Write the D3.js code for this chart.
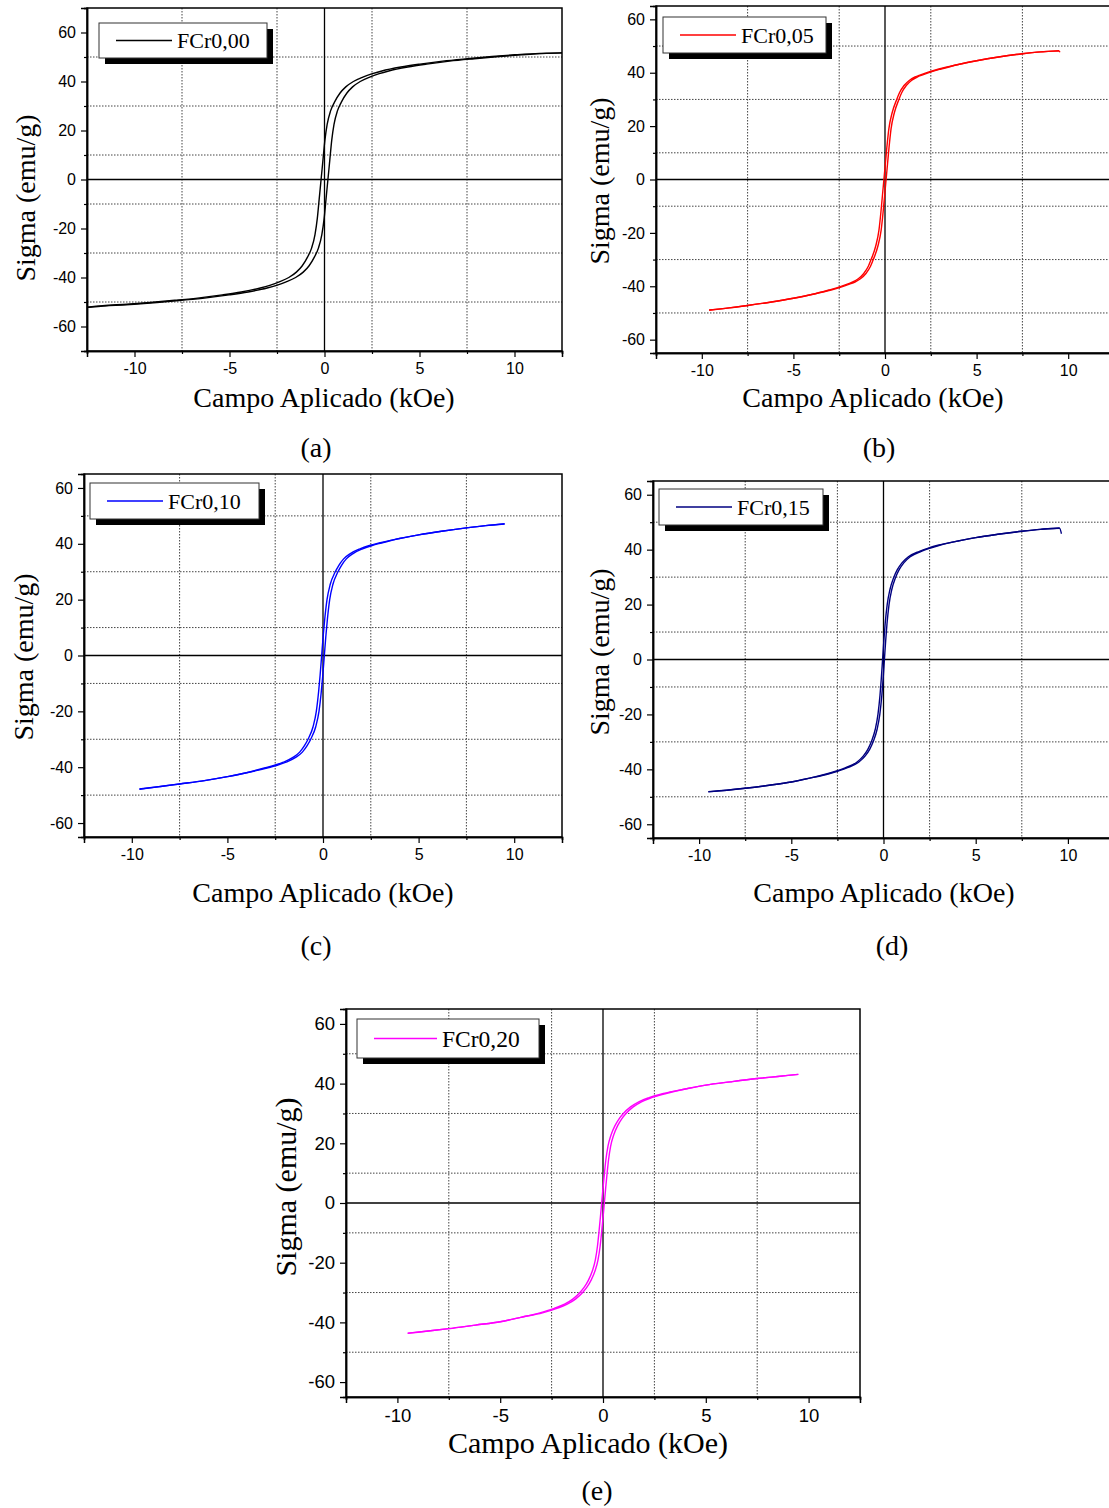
<!DOCTYPE html>
<html>
<head>
<meta charset="utf-8">
<script src="https://cdn.jsdelivr.net/npm/d3@7"></script>
<style>
body {margin:0; background:#fff;}
svg {display:block;}
</style>
</head>
<body>
<svg id="fig" width="1109" height="1508"></svg>
<script>
// hysteresis loops, [field (kOe), sigma (emu/g)]
// "desc" = branch coming down from +H, "asc" = branch going up from -H
var fcr000Desc = [[12.5,51.7],[11.32,51.5],[10.02,50.9],[8.82,50.2],[7.52,49.3],[6.22,48.3],[5.02,47.1],[4.02,45.9],[3.02,44.3],[2.52,43.2],[2.02,41.8],[1.52,40],[1.12,37.8],[0.82,35.3],[0.52,31.5],[0.32,28],[0.14,22.5],[0.02,16],[-0.08,8],[-0.18,0],[-0.28,-8],[-0.38,-16],[-0.5,-22.5],[-0.68,-28],[-0.88,-31.5],[-1.18,-35.3],[-1.48,-37.8],[-1.88,-40],[-2.38,-41.8],[-2.88,-43.2],[-3.38,-44.3],[-4.38,-45.9],[-5.38,-47.1],[-6.58,-48.3],[-7.88,-49.3],[-9.18,-50.2],[-10.38,-50.9],[-11.68,-51.5],[-12.5,-52.1]];
var fcr000Asc = [[-12.5,-52.2],[-11.32,-51.5],[-10.02,-50.9],[-8.82,-50.2],[-7.52,-49.3],[-6.22,-48.3],[-5.02,-47.1],[-4.02,-45.9],[-3.02,-44.3],[-2.52,-43.2],[-2.02,-41.8],[-1.52,-40],[-1.12,-37.8],[-0.82,-35.3],[-0.52,-31.5],[-0.32,-28],[-0.14,-22.5],[-0.02,-16],[0.08,-8],[0.18,0],[0.28,8],[0.38,16],[0.5,22.5],[0.68,28],[0.88,31.5],[1.18,35.3],[1.48,37.8],[1.88,40],[2.38,41.8],[2.88,43.2],[3.38,44.3],[4.38,45.9],[5.38,47.1],[6.58,48.3],[7.88,49.3],[9.18,50.2],[10.38,50.9],[11.68,51.5],[12.5,51.7]];

var fcr005Desc = [[9.5,48.3],[8.5,47.8],[7.5,47.1],[6.2,45.9],[5,44.5],[4,43.1],[2.94,41.4],[2.44,40.4],[1.94,39.2],[1.64,38.4],[1.34,37.2],[1.04,35.2],[0.79,32.5],[0.64,30],[0.39,25],[0.21,19],[0.1,12],[0.02,6],[-0.06,0],[-0.14,-6],[-0.22,-12],[-0.33,-19],[-0.51,-25],[-0.76,-30],[-0.91,-32.5],[-1.16,-35.2],[-1.46,-37.2],[-1.76,-38.4],[-2.06,-39.2],[-2.56,-40.4],[-3.06,-41.4],[-4,-43.1],[-5,-44.5],[-6.2,-45.9],[-7.5,-47.2],[-8.5,-48.1],[-9.6,-48.9]];
var fcr005Asc = [[-9.6,-49],[-8.5,-48.1],[-7.5,-47.2],[-6.2,-45.9],[-5,-44.5],[-4,-43.1],[-2.94,-41.4],[-2.44,-40.4],[-1.94,-39.2],[-1.64,-38.4],[-1.34,-37.2],[-1.04,-35.2],[-0.79,-32.5],[-0.64,-30],[-0.39,-25],[-0.21,-19],[-0.1,-12],[-0.02,-6],[0.06,0],[0.14,6],[0.22,12],[0.33,19],[0.51,25],[0.76,30],[0.91,32.5],[1.16,35.2],[1.46,37.2],[1.76,38.4],[2.06,39.2],[2.56,40.4],[3.06,41.4],[4,43.1],[5,44.5],[6.2,45.9],[7.5,47.1],[8.5,47.8],[9.5,48.2],[9.55,47.7]];

var fcr010Desc = [[9.5,47.2],[8.5,46.5],[7.5,45.7],[6.2,44.5],[5,43.2],[4,41.9],[2.93,40.3],[2.43,39.4],[1.93,38.2],[1.43,36.5],[1.08,34.6],[0.83,32.3],[0.63,29.8],[0.38,25.5],[0.21,20],[0.09,13],[0.01,7],[-0.07,0],[-0.15,-7],[-0.23,-13],[-0.35,-20],[-0.52,-25.5],[-0.77,-29.8],[-0.97,-32.3],[-1.22,-34.6],[-1.57,-36.5],[-2.07,-38.2],[-2.57,-39.4],[-3.07,-40.3],[-4,-42],[-5,-43.4],[-6.2,-44.8],[-7.5,-46],[-8.5,-46.9],[-9.6,-47.8]];
var fcr010Asc = [[-9.6,-47.9],[-8.5,-46.9],[-7.5,-46],[-6.2,-44.8],[-5,-43.4],[-4,-42],[-2.93,-40.3],[-2.43,-39.4],[-1.93,-38.2],[-1.43,-36.5],[-1.08,-34.6],[-0.83,-32.3],[-0.63,-29.8],[-0.38,-25.5],[-0.21,-20],[-0.09,-13],[-0.01,-7],[0.07,0],[0.15,7],[0.23,13],[0.35,20],[0.52,25.5],[0.77,29.8],[0.97,32.3],[1.22,34.6],[1.57,36.5],[2.07,38.2],[2.57,39.4],[3.07,40.3],[4,41.9],[5,43.2],[6.2,44.5],[7.5,45.7],[8.5,46.5],[9.5,47.1]];

var fcr015Desc = [[9.55,47.9],[8.5,47.4],[7.5,46.7],[6.2,45.6],[5,44.4],[4,43.1],[2.95,41.6],[2.45,40.6],[1.95,39.4],[1.35,37.4],[1,35.2],[0.75,32.7],[0.55,29.8],[0.35,25.5],[0.2,20],[0.09,13],[0.02,7],[-0.05,0],[-0.12,-7],[-0.19,-13],[-0.3,-20],[-0.45,-25.5],[-0.65,-29.8],[-0.85,-32.7],[-1.1,-35.2],[-1.45,-37.4],[-2.05,-39.4],[-2.55,-40.6],[-3.05,-41.6],[-4,-43.2],[-5,-44.6],[-6.2,-45.8],[-7.5,-46.9],[-8.5,-47.6],[-9.5,-48.1]];
var fcr015Asc = [[-9.5,-48.2],[-8.5,-47.6],[-7.5,-46.9],[-6.2,-45.8],[-5,-44.6],[-4,-43.2],[-2.95,-41.6],[-2.45,-40.6],[-1.95,-39.4],[-1.35,-37.4],[-1,-35.2],[-0.75,-32.7],[-0.55,-29.8],[-0.35,-25.5],[-0.2,-20],[-0.09,-13],[-0.02,-7],[0.05,0],[0.12,7],[0.19,13],[0.3,20],[0.45,25.5],[0.65,29.8],[0.85,32.7],[1.1,35.2],[1.45,37.4],[2.05,39.4],[2.55,40.6],[3.05,41.6],[4,43.1],[5,44.4],[6.2,45.6],[7.5,46.7],[8.5,47.4],[9.55,47.8],[9.65,45.8]];

var fcr020Desc = [[9.5,43.1],[8.5,42.4],[7.5,41.7],[6.2,40.6],[5,39.5],[4,38.2],[2.94,36.7],[2.24,35.3],[1.74,33.9],[1.34,32.2],[0.99,30],[0.79,28.3],[0.59,26],[0.39,22.8],[0.24,19],[0.14,14.5],[0.07,10],[0,5],[-0.065,0],[-0.13,-5],[-0.2,-10],[-0.27,-14.5],[-0.37,-19],[-0.52,-22.8],[-0.72,-26],[-0.92,-28.3],[-1.12,-30],[-1.47,-32.2],[-1.87,-33.9],[-2.37,-35.3],[-3.07,-36.8],[-4,-38.3],[-5,-39.8],[-6.2,-40.9],[-7.5,-42.1],[-8.5,-42.9],[-9.5,-43.6]];
var fcr020Asc = [[-9.5,-43.7],[-8.5,-42.9],[-7.5,-42.1],[-6.2,-40.9],[-5,-39.8],[-4,-38.3],[-2.94,-36.8],[-2.24,-35.3],[-1.74,-33.9],[-1.34,-32.2],[-0.99,-30],[-0.79,-28.3],[-0.59,-26],[-0.39,-22.8],[-0.24,-19],[-0.14,-14.5],[-0.07,-10],[0,-5],[0.065,0],[0.13,5],[0.2,10],[0.27,14.5],[0.37,19],[0.52,22.8],[0.72,26],[0.92,28.3],[1.12,30],[1.47,32.2],[1.87,33.9],[2.37,35.3],[3.07,36.7],[4,38.2],[5,39.5],[6.2,40.6],[7.5,41.7],[8.5,42.4],[9.5,43.1]];

var sampleNames = ['FCr0,00','FCr0,05','FCr0,10','FCr0,15','FCr0,20'];
var panelLetters = ['(a)','(b)','(c)','(d)','(e)'];

var xMajorTicks = [-10,-5,0,5,10];
var xMinorTicks = [-12.5,-7.5,-2.5,2.5,7.5,12.5];
var yMajorTicks = [-60,-40,-20,0,20,40,60];
var yMinorTicks = [-70,-50,-30,-10,10,30,50,70];

var xTitle = 'Campo Aplicado (kOe)';
var yTitle = 'Sigma (emu/g)';

var serif = "'Liberation Serif','Times New Roman',serif";
var sans = "'Liberation Sans',Arial,sans-serif";

// layout of the five frames (pixels)
var panels = [
    {desc:fcr000Desc, asc:fcr000Asc, color:'#000000', left:87, top:8, width:475, height:343, yMax:70,
     legend:[99,23,168,35], yT:[25,198], xT:[324,397], cap:[316,447], big:false},
    {desc:fcr005Desc, asc:fcr005Asc, color:'#ff0000', left:656, top:6, width:458, height:347, yMax:65,
     legend:[663,17,163,36], yT:[599,181], xT:[873,397], cap:[879,447], big:false},
    {desc:fcr010Desc, asc:fcr010Asc, color:'#0000ff', left:84, top:474, width:478, height:363, yMax:65,
     legend:[90,483,169,36], yT:[23,657], xT:[323,892], cap:[316,945], big:false},
    {desc:fcr015Desc, asc:fcr015Asc, color:'#000080', left:653, top:481, width:461, height:357, yMax:65,
     legend:[659,489,164,36], yT:[599,652], xT:[884,892], cap:[892,945], big:false},
    {desc:fcr020Desc, asc:fcr020Asc, color:'#ff00ff', left:346, top:1009, width:514, height:388, yMax:65,
     legend:[357,1019,182,39], yT:[285,1187], xT:[588,1442], cap:[597,1490], big:true}
];

var svg = d3.select('#fig');

panels.forEach(function(p, i){
    drawPanel(p, i);
});

function drawPanel(p, i) {
    var x = d3.scaleLinear().domain([-12.5, 12.5]).range([0, p.width]);
    var y = d3.scaleLinear().domain([-p.yMax, p.yMax]).range([p.height, 0]);
    var tickFont = p.big ? 18.5 : 16;
    var titleFont = p.big ? 30 : 28;
    var plain = function(d){ return String(d); };   // keep the plain hyphen, like the original

    var g = svg.append('g').attr('transform', 'translate(' + p.left + ',' + p.top + ')');

    g.append('clipPath').attr('id', 'clip' + i)
        .append('rect').attr('width', p.width).attr('height', p.height);

    // dotted grid at the minor tick positions
    g.selectAll('.vgrid')
        .data(xMinorTicks.filter(function(d){ return Math.abs(d) < 12.5; }))
        .enter().append('line')
        .attr('x1', function(d){ return x(d); }).attr('x2', function(d){ return x(d); })
        .attr('y1', 0).attr('y2', p.height)
        .attr('stroke', '#444').attr('stroke-width', 1).attr('stroke-dasharray', '1.5,1.5');
    g.selectAll('.hgrid')
        .data(yMinorTicks.filter(function(d){ return Math.abs(d) < p.yMax; }))
        .enter().append('line')
        .attr('y1', function(d){ return y(d); }).attr('y2', function(d){ return y(d); })
        .attr('x1', 0).attr('x2', p.width)
        .attr('stroke', '#444').attr('stroke-width', 1).attr('stroke-dasharray', '1.5,1.5');

    // zero lines
    g.append('line').attr('x1', x(0)).attr('x2', x(0)).attr('y1', 0).attr('y2', p.height)
        .attr('stroke', '#000').attr('stroke-width', 1.3);
    g.append('line').attr('y1', y(0)).attr('y2', y(0)).attr('x1', 0).attr('x2', p.width)
        .attr('stroke', '#000').attr('stroke-width', 1.3);

    // loop
    var line = d3.line()
        .x(function(d){ return x(d[0]); })
        .y(function(d){ return y(d[1]); })
        .curve(d3.curveMonotoneX);
    var sortH = function(a){ return a.slice().sort(function(m, n){ return m[0] - n[0]; }); };
    g.append('g').attr('clip-path', 'url(#clip' + i + ')')
        .selectAll('path')
        .data([sortH(p.desc), sortH(p.asc)])
        .enter().append('path')
        .attr('d', line)
        .attr('fill', 'none')
        .attr('stroke', p.color)
        .attr('stroke-width', 1.4);

    // frame
    g.append('rect').attr('width', p.width).attr('height', p.height)
        .attr('fill', 'none').attr('stroke', '#000').attr('stroke-width', 1.5);

    // axes
    g.append('g').attr('transform', 'translate(0,' + p.height + ')')
        .call(d3.axisBottom(x).tickValues(xMajorTicks).tickSize(6).tickPadding(6).tickFormat(plain));
    g.append('g').attr('transform', 'translate(0,' + p.height + ')')
        .call(d3.axisBottom(x).tickValues(xMinorTicks).tickSize(3).tickFormat(''));
    g.append('g')
        .call(d3.axisLeft(y).tickValues(yMajorTicks).tickSize(6).tickPadding(5).tickFormat(plain));
    g.append('g')
        .call(d3.axisLeft(y).tickValues(yMinorTicks.filter(function(d){ return Math.abs(d) <= p.yMax; })).tickSize(3).tickFormat(''));

    g.selectAll('.domain').attr('stroke', '#000').attr('stroke-width', 1.5);
    g.selectAll('.tick line').attr('stroke', '#000').attr('stroke-width', 1.2);
    g.selectAll('.tick text').attr('font-family', sans).attr('font-size', tickFont).attr('fill', '#000');

    // legend with drop shadow
    var L = p.legend;
    var lg = svg.append('g');
    lg.append('rect').attr('x', L[0] + 6).attr('y', L[1] + 6).attr('width', L[2]).attr('height', L[3]).attr('fill', '#000');
    lg.append('rect').attr('x', L[0]).attr('y', L[1]).attr('width', L[2]).attr('height', L[3])
        .attr('fill', '#fff').attr('stroke', '#333').attr('stroke-width', 1);
    lg.append('line').attr('x1', L[0] + 17).attr('x2', L[0] + (p.big ? 80 : 73))
        .attr('y1', L[1] + L[3] / 2).attr('y2', L[1] + L[3] / 2)
        .attr('stroke', p.color).attr('stroke-width', 1.3);
    lg.append('text').attr('x', L[0] + (p.big ? 85 : 78)).attr('y', L[1] + L[3] / 2)
        .attr('dominant-baseline', 'central')
        .attr('font-family', serif).attr('font-size', p.big ? 23.5 : 22)
        .text(sampleNames[i]);

    // titles
    svg.append('text')
        .attr('transform', 'translate(' + p.yT[0] + ',' + p.yT[1] + ') rotate(-90)')
        .attr('text-anchor', 'middle').attr('dominant-baseline', 'central')
        .attr('font-family', serif).attr('font-size', titleFont)
        .text(yTitle);
    svg.append('text')
        .attr('x', p.xT[0]).attr('y', p.xT[1])
        .attr('text-anchor', 'middle').attr('dominant-baseline', 'central')
        .attr('font-family', serif).attr('font-size', titleFont)
        .text(xTitle);
    svg.append('text')
        .attr('x', p.cap[0]).attr('y', p.cap[1])
        .attr('text-anchor', 'middle').attr('dominant-baseline', 'central')
        .attr('font-family', serif).attr('font-size', 28)
        .text(panelLetters[i]);
}
</script>
</body>
</html>
